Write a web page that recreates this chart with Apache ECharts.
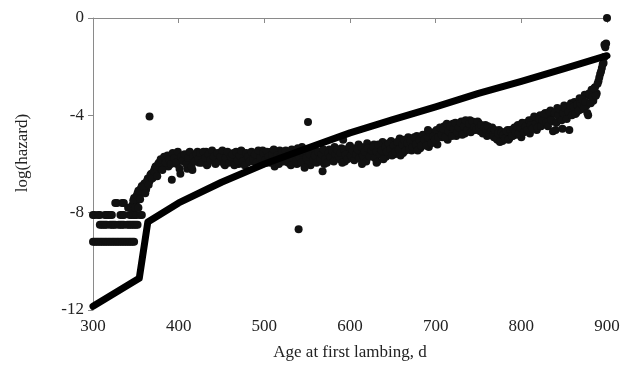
<!DOCTYPE html>
<html>
<head>
<meta charset="utf-8">
<script src="https://cdn.jsdelivr.net/npm/echarts@6/dist/echarts.min.js"></script>
<style>
  html, body { margin: 0; padding: 0; background: #fff; }
  #chart { width: 633px; height: 377px; }
</style>
</head>
<body>
<div id="chart"></div>
<script>
// discrete low-count levels at the young ages
const rowLowDays = [300, 302, 304, 306, 308, 310, 312, 314, 316, 318, 320, 322, 324, 326, 328, 330, 332, 334, 336, 338, 340, 342, 344, 346, 348];
const rowLowY = -9.2;
const rowMidDays = [308, 310, 312, 314, 316, 320, 322, 324, 326, 330, 332, 334, 336, 340, 342, 344, 346, 348, 350, 352];
const rowMidY = -8.5;
const rowHighDays = [300, 302, 306, 308, 314, 316, 318, 320, 322, 332, 334, 336, 343, 345, 347, 349, 351, 355, 357];
const rowHighY = -8.1;

// observed log(hazard) on even days, starting at day 346
const evenStart = 346;
const evenY = [
  -7.7, -7.4, -7.6, -7.2, -7.35, -7.0, -7.15, -6.8, -7.05, -6.6,
  -6.7, -6.4, -6.55, -6.2, -6.35, -6.0, -6.15, -5.85, -6.05, -5.75,
  -5.9, -6.1, -5.7, -6.65, -5.85, -5.6, -6.0, -5.75, -6.4, -5.65,
  -5.9, -5.7, -6.2, -5.55, -5.85, -6.25, -5.6, -5.8, -5.5, -5.95,
  -5.7, -5.6, -5.85, -5.5, -6.0, -5.65, -5.8, -5.55, -5.9, -5.7,
  -5.6, -5.85, -5.5, -5.75, -6.05, -5.6, -5.8, -5.65, -5.9, -5.55,
  -5.75, -5.6, -6.0, -5.7, -5.5, -5.85, -5.65, -5.95, -5.6, -5.8,
  -5.55, -5.9, -5.7, -6.05, -5.6, -5.8, -5.45, -5.75, -5.95, -5.6,
  -5.7, -5.5, -5.85, -6.1, -5.6, -5.75, -5.45, -5.9, -5.65, -5.8,
  -5.55, -5.95, -5.7, -5.4, -5.85, -5.6, -6.0, -5.5, -5.75, -5.3,
  -5.65, -5.9, -5.5, -5.8, -6.05, -5.6, -5.45, -5.85, -5.7, -5.55,
  -5.9, -5.65, -6.0, -5.5, -5.75, -5.4, -5.85, -5.6, -5.3, -5.7,
  -5.5, -5.8, -5.35, -5.65, -5.9, -5.45, -5.6, -5.25, -5.75, -5.5,
  -5.35, -5.7, -5.2, -5.55, -5.85, -5.4, -5.6, -5.15, -5.5, -5.3,
  -5.65, -5.2, -5.45, -5.9, -5.35, -5.55, -5.1, -5.4, -5.7, -5.25,
  -5.5, -5.05, -5.35, -5.6, -5.2, -5.45, -4.95, -5.3, -5.55, -5.1,
  -5.35, -4.9, -5.2, -5.45, -5.0, -5.25, -4.85, -5.1, -5.35, -4.95,
  -5.2, -4.8, -5.05, -5.3, -4.85, -5.1, -4.7, -4.95, -5.2, -4.75,
  -4.6, -4.9, -4.45, -4.7, -5.0, -4.5, -4.75, -4.35, -4.6, -4.85,
  -4.4, -4.65, -4.25, -4.5, -4.75, -4.3, -4.55, -4.2, -4.45, -4.6,
  -4.35, -4.55, -4.3, -4.65, -4.45, -4.7, -4.4, -4.85, -4.55, -4.75,
  -4.5, -4.9, -4.65, -5.0, -4.6, -4.85, -5.05, -4.7, -4.9, -4.6,
  -4.95, -4.7, -4.85, -4.5, -4.8, -4.4, -4.65, -4.9, -4.35, -4.6,
  -4.3, -4.55, -4.75, -4.2, -4.45, -4.1, -4.6, -4.3, -4.0, -4.4,
  -4.15, -3.9, -4.35, -4.05, -3.8, -4.25, -3.95, -4.6, -3.7, -4.1,
  -3.85, -4.55, -3.6, -3.95, -3.7, -4.6, -3.5, -3.8, -3.45, -3.9,
  -3.55, -3.3, -3.75, -3.4, -3.15, -3.6, -4.0, -3.2, -2.95, -3.4,
  -2.85, -3.1, -2.6, -2.3, -2.05, -1.85, -1.2, 0
];

// observed log(hazard) on odd days, starting at day 347
const oddStart = 347;
const oddY = [
  -7.5, -7.8, -7.3, -7.1, -7.45, -6.9, -6.95, -7.2, -6.7, -6.85,
  -6.45, -6.6, -6.3, -6.1, -6.5, -5.95, -5.8, -6.25, -5.7, -5.95,
  -5.65, -5.8, -6.0, -5.55, -5.75, -5.95, -5.5, -6.2, -5.7, -5.85,
  -5.6, -6.0, -5.75, -5.5, -6.1, -5.7, -5.9, -5.6, -5.8, -5.55,
  -5.95, -5.5, -5.75, -6.05, -5.6, -5.85, -5.45, -5.7, -6.0, -5.55,
  -5.9, -5.7, -5.45, -6.0, -5.75, -5.5, -5.95, -5.7, -5.6, -6.05,
  -5.5, -5.85, -5.65, -5.45, -5.9, -6.05, -5.55, -5.7, -5.9, -5.5,
  -5.8, -5.6, -5.95, -5.45, -5.75, -6.0, -5.55, -5.85, -5.5, -5.7,
  -5.95, -5.6, -5.4, -5.8, -5.65, -6.0, -5.7, -5.5, -5.9, -5.45,
  -5.8, -5.6, -6.05, -5.75, -5.5, -5.9, -5.35, -5.7, -5.95, -5.55,
  -5.45, -5.75, -6.0, -5.6, -5.35, -5.85, -5.65, -5.95, -5.5, -5.8,
  -5.6, -5.4, -5.8, -5.95, -5.55, -5.7, -5.45, -5.9, -5.6, -5.4,
  -5.7, -5.55, -5.95, -5.4, -5.6, -5.8, -5.3, -5.65, -5.45, -5.85,
  -5.6, -5.4, -5.75, -5.3, -5.65, -5.5, -5.9, -5.35, -5.7, -5.45,
  -5.3, -5.75, -5.5, -5.2, -5.6, -5.45, -5.8, -5.3, -5.5, -5.15,
  -5.4, -5.65, -5.25, -5.5, -5.1, -5.4, -5.65, -5.2, -5.0, -5.45,
  -5.15, -5.4, -5.05, -5.3, -4.9, -5.2, -5.45, -5.0, -5.25, -4.8,
  -5.0, -5.25, -4.9, -4.7, -5.15, -4.85, -5.0, -4.6, -4.9, -4.5,
  -4.8, -4.55, -4.9, -4.35, -4.65, -4.45, -4.85, -4.55, -4.3, -4.7,
  -4.5, -4.3, -4.8, -4.45, -4.2, -4.6, -4.35, -4.7, -4.25, -4.5,
  -4.6, -4.25, -4.5, -4.4, -4.75, -4.5, -4.6, -4.45, -4.8, -4.65,
  -4.8, -4.6, -4.95, -4.75, -5.1, -4.7, -4.8, -4.95, -4.65, -5.0,
  -4.6, -4.85, -4.55, -4.7, -4.45, -4.75, -4.5, -4.3, -4.7, -4.45,
  -4.6, -4.2, -4.4, -4.55, -4.05, -4.35, -4.5, -4.15, -4.45, -4.2,
  -3.95, -4.3, -4.45, -3.85, -4.2, -4.65, -3.9, -4.3, -4.0, -3.75,
  -4.2, -3.9, -3.7, -4.15, -3.85, -3.6, -4.0, -3.65, -3.95, -3.55,
  -3.8, -3.5, -3.35, -3.7, -3.45, -3.9, -3.1, -3.5, -3.25, -2.9,
  -3.2, -2.7, -2.45, -2.2, -1.9, -1.6, -1.05
];

// isolated points off the main band
const extraDays = [326, 328, 334, 336, 341, 345, 349, 353, 366, 540, 551, 547, 568, 614, 631, 592, 691, 897];
const extraY = [-7.6, -7.6, -7.6, -7.6, -7.8, -7.8, -7.8, -7.8, -4.05, -8.68, -4.27, -6.15, -6.3, -6.0, -5.95, -5.0, -4.6, -1.1];

// fitted curve
const fitDays = [300, 354, 364, 400, 450, 500, 550, 600, 650, 700, 750, 800, 850, 900];
const fitY = [-11.85, -10.7, -8.38, -7.6, -6.75, -6.0, -5.35, -4.72, -4.18, -3.65, -3.1, -2.6, -2.08, -1.55];

const xTicks = [300, 400, 500, 600, 700, 800, 900];
const yTicks = [0, -4, -8, -12];

const scatterData = [];
rowLowDays.forEach(d => scatterData.push([d, rowLowY]));
rowMidDays.forEach(d => scatterData.push([d, rowMidY]));
rowHighDays.forEach(d => scatterData.push([d, rowHighY]));
evenY.forEach((y, i) => scatterData.push([evenStart + i * 2, y]));
oddY.forEach((y, i) => scatterData.push([oddStart + i * 2, y]));
extraDays.forEach((d, i) => scatterData.push([d, extraY[i]]));

const fitData = fitDays.map((d, i) => [d, fitY[i]]);

const chart = echarts.init(document.getElementById('chart'));
const axisColor = '#8a8a8a';
const font = 'Liberation Serif, Times New Roman, serif';

chart.setOption({
  animation: false,
  grid: { left: 93, right: 26, top: 18, bottom: 67 },
  xAxis: {
    type: 'value',
    min: xTicks[0],
    max: xTicks[xTicks.length - 1],
    interval: 100,
    name: 'Age at first lambing, d',
    nameLocation: 'middle',
    nameGap: 34,
    nameTextStyle: { fontFamily: font, fontSize: 17, color: '#222' },
    axisLine: { lineStyle: { color: axisColor, width: 1 } },
    axisTick: { inside: false, length: 5, lineStyle: { color: axisColor } },
    axisLabel: { fontFamily: font, fontSize: 17, color: '#222', margin: 8 },
    splitLine: { show: false }
  },
  yAxis: {
    type: 'value',
    min: yTicks[yTicks.length - 1],
    max: yTicks[0],
    interval: 4,
    name: 'log(hazard)',
    nameLocation: 'middle',
    nameGap: 62,
    nameTextStyle: { fontFamily: font, fontSize: 17, color: '#222', padding: [0, 0, 0, 22] },
    axisLine: { show: true, lineStyle: { color: axisColor, width: 1 } },
    axisTick: { show: true, inside: false, length: 5, lineStyle: { color: axisColor } },
    axisLabel: { fontFamily: font, fontSize: 17, color: '#222', margin: 9 },
    splitLine: { show: false }
  },
  series: [
    {
      type: 'scatter',
      data: scatterData,
      symbolSize: 8,
      itemStyle: { color: '#111', opacity: 1 },
      z: 2
    },
    {
      type: 'line',
      data: fitData,
      showSymbol: false,
      smooth: false,
      lineStyle: { color: '#000', width: 7, cap: 'round', join: 'round' },
      z: 3
    }
  ]
});
</script>
</body>
</html>
